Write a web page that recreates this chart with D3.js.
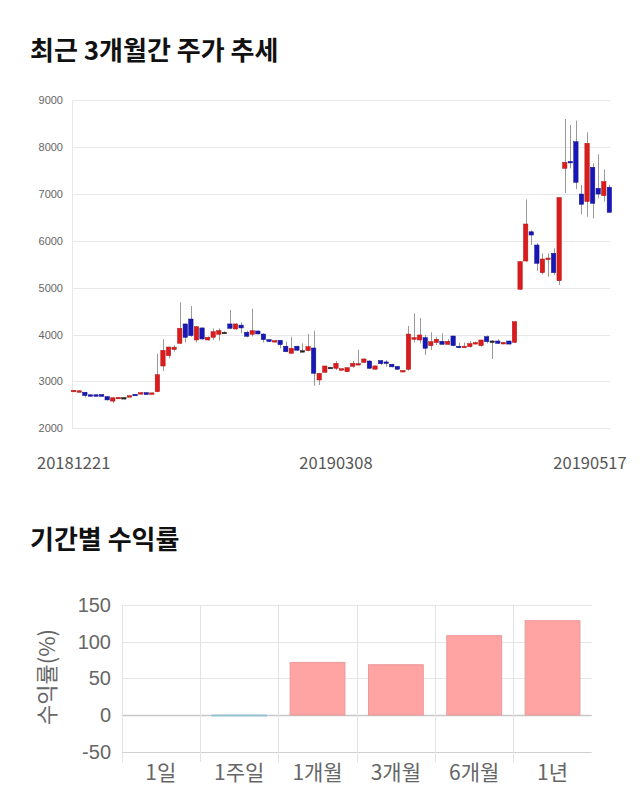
<!DOCTYPE html>
<html><head><meta charset="utf-8">
<script src="https://cdn.jsdelivr.net/npm/d3@7"></script>
<style>
body{margin:0;background:#fff;}
svg{display:block;font-family:"Liberation Sans",Arial,sans-serif;}
</style></head>
<body><svg id="c" width="640" height="810"></svg>
<script>
// ---- candlestick data (daily, 20181221 .. 20190517) ----
const opens  = [2800,2790,2768,2715,2715,2720,2675,2580,2650,2655,2685,2725,2730,2760,2740,2780,3328,3548,3680,3812,4225,4330,3883,4140,3883,3940,4005,4047,4225,4118,4200,4047,4005,4075,4010,3890,3840,3876,3750,3600,3750,3655,3655,3712,3030,3194,3300,3280,3255,3207,3322,3360,3407,3435,3260,3443,3415,3366,3320,3220,3258,3898,3883,3933,3762,3827,3855,3790,3968,3750,3735,3740,3796,3762,3953,3862,3861,3800,3861,3833,4964,5567,6190,5908,5318,5600,5730,5147,7543,7690,8110,6995,6833,7565,7117,6960,7140];
const highs  = [2815,2810,2775,2720,2720,2725,2680,2660,2670,2665,2700,2730,2765,2765,2760,3584,3900,3740,3770,4687,4230,4607,4180,4150,3960,4130,4130,4070,4522,4240,4260,4080,4550,4080,4020,3895,3880,3880,3847,3953,3760,3812,4010,4081,3180,3335,3310,3435,3280,3300,3435,3670,3490,3450,3340,3450,3457,3375,3325,3235,4180,4452,4350,3990,4047,3953,4025,3900,3975,3827,3830,3860,3848,3890,3980,3880,3900,3840,3870,4280,5560,6880,6220,5950,5730,5730,5838,6925,8595,8467,8560,7190,8310,7650,7840,7522,7190];
const lows   = [2795,2780,2660,2700,2695,2675,2595,2540,2645,2620,2680,2710,2725,2715,2735,2770,3218,3492,3633,3800,3833,3950,3833,3890,3870,3880,3870,4030,4120,4100,4025,3940,3960,4000,3833,3840,3830,3707,3620,3600,3650,3620,3640,2908,2923,3180,3290,3243,3240,3200,3292,3350,3390,3270,3250,3350,3314,3300,3250,3220,3228,3827,3812,3563,3670,3776,3790,3780,3750,3707,3720,3720,3790,3740,3810,3478,3800,3790,3790,3820,4950,5550,5910,5354,5283,5233,5270,5055,7015,7543,7100,6563,6510,6475,6904,6833,6600];
const closes = [2810,2800,2700,2705,2700,2680,2605,2650,2660,2655,2695,2715,2760,2720,2755,3143,3663,3733,3730,4132,3940,3975,4167,3905,3940,4060,4082,4047,4132,4225,4140,3962,4082,4012,3890,3850,3870,3783,3633,3707,3665,3655,3742,3173,3173,3328,3300,3386,3270,3292,3386,3380,3478,3280,3330,3378,3405,3310,3260,3232,4010,3933,3990,3707,3847,3898,3790,3855,3762,3735,3750,3805,3828,3883,3847,3862,3812,3830,3796,4273,5552,6356,6121,5518,5610,5630,5318,6919,7671,7660,7245,6776,8077,6797,6995,7260,6605];
const priceTicks = [2000,3000,4000,5000,6000,7000,8000,9000];
const dateLabels = ["20181221","20190308","20190517"];
const dateLabelIdx = [0,47,96];

// ---- period returns ----
const periods = ["1일","1주일","1개월","3개월","6개월","1년"];
const returns = [0,-1.2,71.7,68.6,108.2,128.6];
const returnTicks = [-50,0,50,100,150];

const svg = d3.select("#c");
const cjk = "'Noto Sans CJK KR',sans-serif";

// titles
svg.append("text").attr("x",30).attr("y",60).text("최근 3개월간 주가 추세")
  .attr("font-family",cjk).attr("font-weight","bold").attr("font-size",26).attr("fill","#111");
svg.append("text").attr("x",30).attr("y",549).text("기간별 수익률")
  .attr("font-family",cjk).attr("font-weight","bold").attr("font-size",26).attr("fill","#111");

// ---- candlestick chart ----
const n = opens.length;
const x = d3.scaleBand().domain(d3.range(n)).range([70.9, 70.9 + n*5.58]).padding(0);
const y = d3.scaleLinear().domain([2000,9000]).range([428.3,100]);
const gL = 72, gR = 610;

const g1 = svg.append("g");
g1.selectAll("line.grid").data(priceTicks).join("line")
  .attr("x1",gL).attr("x2",gR).attr("y1",d=>Math.round(y(d))+0.5).attr("y2",d=>Math.round(y(d))+0.5)
  .attr("stroke","#e8e8e8").attr("stroke-width",1);
g1.append("line").attr("x1",gL+0.5).attr("x2",gL+0.5).attr("y1",y(9000)).attr("y2",y(2000))
  .attr("stroke","#e8e8e8");
g1.selectAll("text.yt").data(priceTicks).join("text")
  .attr("x",63).attr("y",d=>y(d)+4).attr("text-anchor","end")
  .attr("font-size",11).attr("fill","#666").text(d=>d);

const cx = i => x(i) + x.bandwidth()/2;
const candles = g1.selectAll("g.c").data(d3.range(n)).join("g");
candles.append("line")
  .attr("x1",i=>Math.round(cx(i))+0.5).attr("x2",i=>Math.round(cx(i))+0.5)
  .attr("y1",i=>y(highs[i])).attr("y2",i=>y(lows[i]))
  .attr("stroke","#999").attr("stroke-width",1);
const bw = 4.4;
candles.append("rect")
  .attr("x",i=>cx(i)-bw/2).attr("width",bw)
  .attr("y",i=>y(Math.max(opens[i],closes[i])))
  .attr("height",i=>Math.max(1.5, Math.abs(y(opens[i])-y(closes[i]))))
  .attr("fill",i=>closes[i]>opens[i]?"#dc1c1c":(closes[i]<opens[i]?"#1818b8":"#222"))
  .attr("stroke",i=>closes[i]>opens[i]?"#b01515":(closes[i]<opens[i]?"#10108a":"#222"))
  .attr("stroke-width",0.5);

g1.selectAll("text.xt").data(dateLabels).join("text")
  .attr("x",(d,k)=>{const c=cx(dateLabelIdx[k]); return Math.min(Math.max(c,72),590);})
  .attr("y",469).attr("text-anchor","middle").attr("font-family",cjk)
  .attr("font-size",16.5).attr("fill","#555").text(d=>d);

// ---- returns bar chart ----
const x2 = d3.scaleBand().domain(periods).range([121.7,591.7]).paddingInner(0.3).paddingOuter(0.15);
const y2 = d3.scaleLinear().domain([-50,150]).range([751.7,605]);
const g2 = svg.append("g");
g2.selectAll("line.h").data(returnTicks).join("line")
  .attr("x1",121.7).attr("x2",591.7)
  .attr("y1",d=>Math.round(y2(d))+0.5).attr("y2",d=>Math.round(y2(d))+0.5)
  .attr("stroke",d=>d===0?"#c8c8c8":(d===-50?"#d0d0d0":"#e6e6e6")).attr("stroke-width",d=>d===0?1.3:1);
const step = (591.7-121.7)/periods.length;
g2.selectAll("line.v").data(d3.range(periods.length)).join("line")
  .attr("x1",k=>Math.round(121.7+k*step)+0.5).attr("x2",k=>Math.round(121.7+k*step)+0.5)
  .attr("y1",605).attr("y2",762).attr("stroke","#e3e3e3");
g2.selectAll("rect.b").data(periods).join("rect")
  .attr("x",d=>x2(d)).attr("width",x2.bandwidth())
  .attr("y",(d,k)=>y2(Math.max(0,returns[k])))
  .attr("height",(d,k)=>Math.abs(y2(returns[k])-y2(0)))
  .attr("fill",(d,k)=>returns[k]>=0?"#ffa3a3":"#a9d3e3")
  .attr("stroke",(d,k)=>returns[k]>=0?"#eb9a9a":"#92c2d4").attr("stroke-width",1);
g2.selectAll("text.yt").data(returnTicks).join("text")
  .attr("x",111).attr("y",d=>y2(d)+7).attr("text-anchor","end")
  .attr("font-size",20).attr("fill","#666").text(d=>d);
g2.selectAll("text.xt").data(periods).join("text")
  .attr("x",d=>x2(d)+x2.bandwidth()/2).attr("y",780).attr("text-anchor","middle")
  .attr("font-family",cjk)
  .attr("font-size",21).attr("fill","#666").text(d=>d);
g2.append("text").attr("transform","translate(55,677) rotate(-90)")
  .attr("text-anchor","middle").attr("font-family",cjk)
  .attr("font-size",22).attr("fill","#666").text("수익률(%)");
</script></body></html>
